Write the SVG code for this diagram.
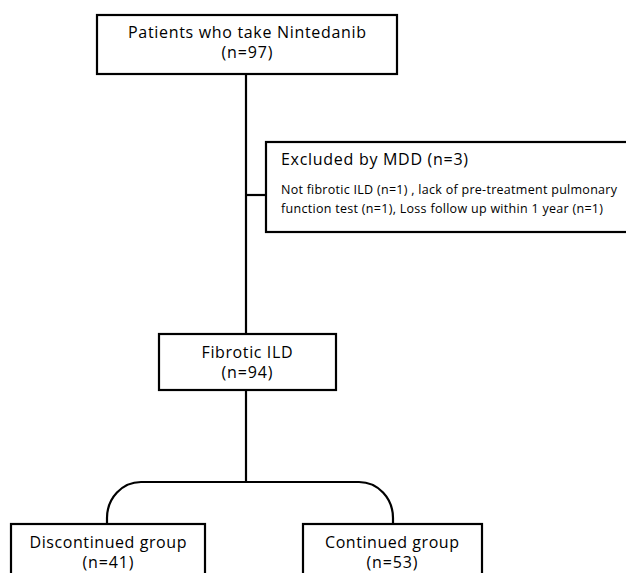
<svg xmlns="http://www.w3.org/2000/svg" width="626" height="573" viewBox="0 0 626 573">
<style>
.box{fill:#fff;stroke:#000;stroke-width:2.2}
.ln{fill:none;stroke:#000;stroke-width:2.2}
.t{font-family:"Open Sans","Liberation Sans",Arial,sans-serif;font-size:16px;fill:#000;text-anchor:middle}
.tl{font-family:"Open Sans","Liberation Sans",Arial,sans-serif;font-size:16px;fill:#000}
.s{font-family:"Open Sans","Liberation Sans",Arial,sans-serif;font-size:12.5px;fill:#000}
</style>
<rect width="626" height="573" fill="#fff"/>
<g id="connectors">
<line class="ln" x1="246" y1="74" x2="246" y2="334"/>
<line class="ln" x1="246" y1="195" x2="266" y2="195"/>
<line class="ln" x1="246" y1="390" x2="246" y2="482"/>
<path class="ln" d="M107,524 V518 A34,36 0 0 1 141,482 H359 A34,36 0 0 1 393,518 V524"/>
</g>
<g id="n-patients">
<rect class="box" x="97" y="15" width="300" height="59"/>
<text class="t" x="247" y="38" textLength="238">Patients who take Nintedanib</text>
<text class="t" x="247" y="58" textLength="51">(n=97)</text>
</g>
<g id="n-excluded">
<rect class="box" x="266" y="142" width="370" height="90"/>
<text class="tl" x="281" y="165" textLength="187">Excluded by MDD (n=3)</text>
<text class="s" x="281" y="194" textLength="336">Not fibrotic ILD (n=1) , lack of pre-treatment pulmonary</text>
<text class="s" x="281" y="213" textLength="322">function test (n=1), Loss follow up within 1 year (n=1)</text>
</g>
<g id="n-fibrotic">
<rect class="box" x="159" y="334" width="177" height="56"/>
<text class="t" x="247" y="358" textLength="91">Fibrotic ILD</text>
<text class="t" x="247" y="378" textLength="51">(n=94)</text>
</g>
<g id="n-discontinued">
<rect class="box" x="11" y="524" width="194" height="60"/>
<text class="t" x="108" y="548" textLength="157">Discontinued group</text>
<text class="t" x="108" y="568" textLength="51">(n=41)</text>
</g>
<g id="n-continued">
<rect class="box" x="303" y="524" width="179" height="60"/>
<text class="t" x="392" y="548" textLength="134">Continued group</text>
<text class="t" x="392" y="568" textLength="51">(n=53)</text>
</g>
</svg>
